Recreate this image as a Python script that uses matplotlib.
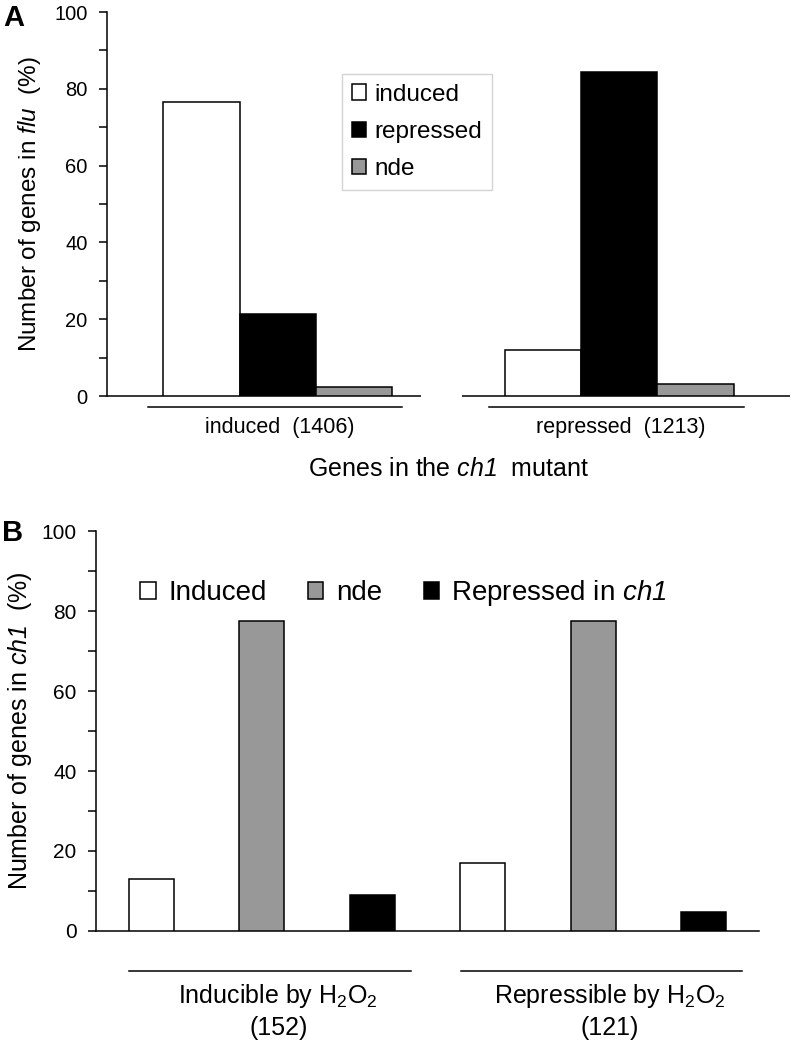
import numpy as np
import matplotlib
matplotlib.use('Agg')
import matplotlib.pyplot as plt
from matplotlib import font_manager
from matplotlib.patches import Patch

# panel A: genes in the ch1 mutant, % of them in flu
a_groups = ['induced  (1406)', 'repressed  (1213)']
a_series = ['induced', 'repressed', 'nde']
a_induced = [76.5, 12.1]
a_repressed = [21.4, 84.5]
a_nde = [2.4, 3.2]

# panel B: H2O2 responsive genes, % of them in ch1
b_groups = [r'Inducible by H$\mathregular{_2}$O$\mathregular{_2}$', r'Repressible by H$\mathregular{_2}$O$\mathregular{_2}$']
b_counts = ['(152)', '(121)']
b_series = ['Induced', 'nde', r'Repressed in $\mathsf{ch1}$']
b_induced = [13.0, 17.1]
b_nde = [77.5, 77.5]
b_repressed = [9.1, 4.7]

yticks = [0, 20, 40, 60, 80, 100]

names = {f.name for f in font_manager.fontManager.ttflist}
narrow = 'Liberation Sans Narrow' if 'Liberation Sans Narrow' in names else 'Liberation Sans'

plt.rcParams['font.family'] = ['Liberation Sans', 'DejaVu Sans']
plt.rcParams['mathtext.fontset'] = 'custom'
plt.rcParams['mathtext.rm'] = 'Liberation Sans'
plt.rcParams['mathtext.it'] = 'Liberation Sans:italic'
plt.rcParams['mathtext.sf'] = 'Liberation Sans:italic'   # italic incl. digits
plt.rcParams['mathtext.default'] = 'regular'

white, black, grey = 'white', 'black', '#989898'
lw = 1.1

fig = plt.figure(figsize=(7.93, 10.5), dpi=100)
axA = fig.add_axes([107/793, 1-396/1050, 683/793, 384/1050])
axB = fig.add_axes([96/793, 1-931/1050, 663/793, 400/1050])


def style_axis(ax, tick_size):
    ax.set_ylim(0, 100)
    ax.set_xlim(-0.5, 1.5)
    ax.set_yticks(yticks)
    ax.set_yticks(np.arange(10, 100, 20), minor=True)
    ax.tick_params(axis='y', which='both', direction='out', length=6, width=lw,
                   labelsize=tick_size, pad=8)
    ax.tick_params(axis='x', bottom=False, labelbottom=False)
    for s in ['top', 'right']:
        ax.spines[s].set_visible(False)
    ax.spines['left'].set_linewidth(lw)
    ax.spines['bottom'].set_linewidth(lw)


# ---- A ----
x = np.arange(len(a_groups))
wA = 0.224
for k, (vals, col) in enumerate(zip([a_induced, a_repressed, a_nde], [white, black, grey])):
    axA.bar(x + (k - 1) * wA, vals, wA, color=col, edgecolor='black', linewidth=lw,
            label=a_series[k], zorder=3)
style_axis(axA, 14.5)
# x axis line broken between the groups
axA.spines['bottom'].set_visible(False)
axA.hlines(0, -0.5, 0.42, color='black', lw=lw, clip_on=False)
axA.hlines(0, 0.54, 1.5, color='black', lw=lw, clip_on=False)
tr = axA.get_xaxis_transform()
for i, g in enumerate(a_groups):
    axA.plot([i - 0.38, i + 0.365], [-0.029, -0.029], color='black', lw=lw,
             transform=tr, clip_on=False)
    axA.text(i + 0.005, -0.083, g, transform=tr, ha='center', va='center', fontsize=15.5)
axA.text(0.5, -0.19, r'Genes in the $\mathsf{ch1}$  mutant', transform=axA.transAxes,
         ha='center', va='center', fontsize=18)
axA.text(-0.114, 0.5, r'Number of genes in $\mathsf{flu}$  (%)', transform=axA.transAxes,
         rotation=90, ha='center', va='center', fontsize=17.5)
legA = axA.legend(loc='upper left', bbox_to_anchor=(0.344, 0.8385), borderaxespad=0,
                  fontsize=17.5, frameon=True, fancybox=False, edgecolor='#c8c8c8',
                  handlelength=0.6, handleheight=0.6, handletextpad=0.35,
                  labelspacing=0.62, borderpad=0.4)
legA.get_frame().set_linewidth(1.0)

# ---- B ----
wB = 0.136
off = 1 / 3
handlesB = []
for k, (vals, col) in enumerate(zip([b_induced, b_nde, b_repressed], [white, grey, black])):
    axB.bar(x + (k - 1) * off, vals, wB, color=col, edgecolor='black', linewidth=lw, zorder=3)
    handlesB.append(Patch(facecolor=col, edgecolor='black', linewidth=lw, label=b_series[k]))
style_axis(axB, 15)
trB = axB.get_xaxis_transform()
for i, g in enumerate(b_groups):
    axB.plot([i - 0.40, i + 0.45], [-0.1, -0.1], color='black', lw=lw,
             transform=trB, clip_on=False)
    axB.text(i + 0.05, -0.163, g, transform=trB, ha='center', va='center',
             fontsize=18, family=narrow)
    axB.text(i + 0.05, -0.243, b_counts[i], transform=trB, ha='center', va='center',
             fontsize=18, family=narrow)
axB.text(-0.115, 0.5, r'Number of genes in $\mathsf{ch1}$  (%)', transform=axB.transAxes,
         rotation=90, ha='center', va='center', fontsize=18, family=narrow)
axB.legend(handles=handlesB, loc='center left', bbox_to_anchor=(0.05, 0.845),
           borderaxespad=0, ncol=3, frameon=False, fontsize=20,
           handlelength=0.55, handleheight=0.55, handletextpad=0.45, columnspacing=1.5)

fig.text(14/793, 1-18/1050, 'A', fontsize=21, fontweight='bold', ha='center', va='center')
fig.text(13/793, 1-533/1050, 'B', fontsize=21, fontweight='bold', ha='center', va='center')

fig.savefig('out.png', dpi=100)
